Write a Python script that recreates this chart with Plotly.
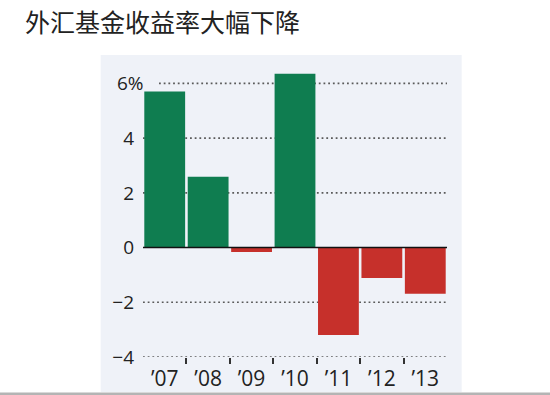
import plotly.graph_objects as go

years = [2007, 2008, 2009, 2010, 2011, 2012, 2013]
year_labels = ["\u201907", "\u201908", "\u201909", "\u201910", "\u201911", "\u201912", "\u201913"]
returns = [5.70, 2.59, -0.16, 6.35, -3.20, -1.11, -1.69]
y_ticks = [-4, -2, 0, 2, 4, 6]
y_tick_text = ["\u22124", "\u22122", "0", "2", "4", ""]
title_text = "外汇基金收益率大幅下降"

GREEN = "#0f7d50"
RED = "#c6302b"
PANEL = "#eff2f8"

W, H = 550, 395
L, R, T, B = 143, 103, 67, 38
pw, ph = W - L - R, H - T - B

def px_x(p):
    return (p - L) / pw

def px_y(p):
    return (H - B - p) / ph

colors = [GREEN if v >= 0 else RED for v in returns]

fig = go.Figure()
fig.add_trace(go.Bar(x=years, y=returns, marker=dict(color=colors, line=dict(width=0)),
                     width=0.94, xaxis="x", yaxis="y", hoverinfo="skip"))
# invisible trace for label axis
fig.add_trace(go.Scatter(x=years, y=[None]*len(years), xaxis="x2", yaxis="y",
                         showlegend=False, hoverinfo="skip"))

shapes = []
# panel background
shapes.append(dict(type="rect", xref="paper", yref="paper",
                   x0=px_x(100.7), x1=px_x(461.7), y0=px_y(392), y1=px_y(55),
                   fillcolor=PANEL, line=dict(width=0), layer="below"))
# bottom gray rule
shapes.append(dict(type="line", xref="paper", yref="paper",
                   x0=px_x(0), x1=px_x(W), y0=px_y(393.8), y1=px_y(393.8),
                   line=dict(color="#b4b4b4", width=2.5), layer="below"))
# dotted gridlines
for v in y_ticks:
    if v == 0:
        continue
    x0 = px_x(159) if v == 6 else 0
    shapes.append(dict(type="line", xref="paper", yref="y", x0=x0, x1=1, y0=v, y1=v,
                       line=dict(color="#5a5a5a", width=1.6, dash="1.8px,2.9px"),
                       layer="below"))
# zero line
shapes.append(dict(type="line", xref="paper", yref="y", x0=0, x1=1, y0=0, y1=0,
                   line=dict(color="#111111", width=1.6), layer="above"))

fig.update_layout(
    width=W, height=H,
    margin=dict(l=L, r=R, t=T, b=B, pad=0, autoexpand=False),
    paper_bgcolor="white", plot_bgcolor="rgba(0,0,0,0)",
    showlegend=False,
    shapes=shapes,
    title=dict(text=title_text, xref="container", yref="container",
               x=25 / W, y=1 - 23 / H, xanchor="left", yanchor="middle",
               font=dict(family="Noto Sans CJK SC", size=25, color="#222222"),
               pad=dict(t=0, b=0, l=0, r=0), automargin=False),
    xaxis=dict(range=[2006.5, 2013.5], tickvals=[y + 0.5 for y in years[:-1]],
               ticktext=[""] * (len(years) - 1), ticks="outside", ticklen=6,
               tickwidth=1.5, tickcolor="#333333", showgrid=False, zeroline=False,
               showline=False, fixedrange=True, automargin=False),
    xaxis2=dict(range=[2006.5, 2013.5], overlaying="x", anchor="y", side="bottom",
                tickvals=years, ticktext=year_labels, ticks="", showgrid=False,
                zeroline=False, showline=False, ticklabelstandoff=7, automargin=False,
                tickfont=dict(family="Open Sans", size=21, color="#222222")),
    yaxis=dict(range=[-4, 6.6], tickvals=y_ticks, ticktext=y_tick_text, ticks="",
               showgrid=False, zeroline=False, showline=False, ticklabelstandoff=8,
               automargin=False,
               tickfont=dict(family="Open Sans", size=19, color="#222222")),
    annotations=[dict(text="6%", xref="paper", yref="y", x=px_x(146), y=6,
                      xanchor="right", yanchor="middle", showarrow=False,
                      font=dict(family="Open Sans", size=19, color="#222222"))],
)

fig.write_html("out.html", config={"displayModeBar": False},
               post_script="document.body.style.margin='0';document.body.style.overflow='hidden';")
